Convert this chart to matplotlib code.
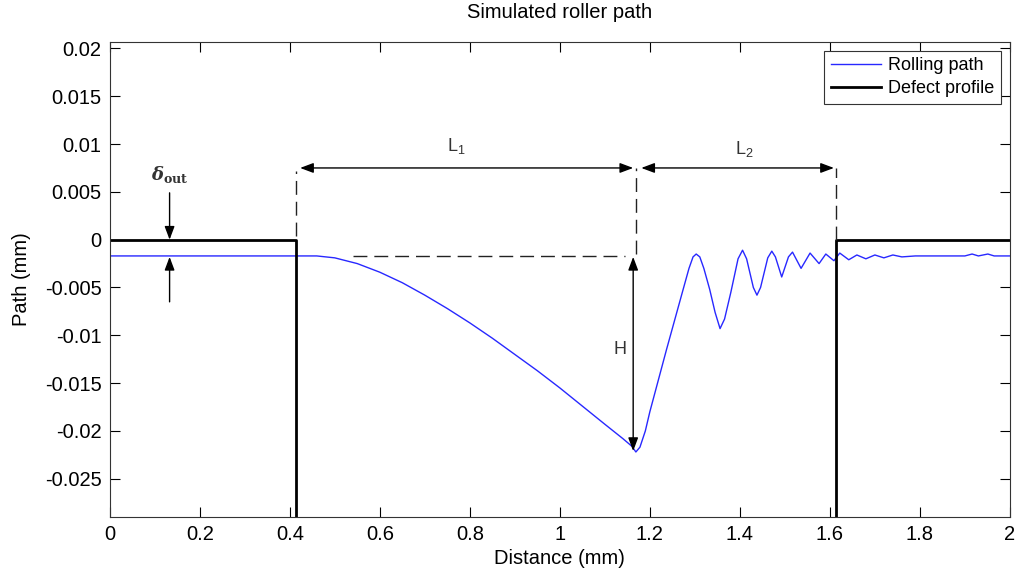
import numpy as np
import matplotlib
matplotlib.use('Agg')
import matplotlib.pyplot as plt
from matplotlib.ticker import FuncFormatter

plt.rcParams['font.family'] = ['Liberation Sans', 'DejaVu Sans']
plt.rcParams['mathtext.fontset'] = 'custom'
plt.rcParams['mathtext.rm'] = 'Liberation Sans'
plt.rcParams['mathtext.it'] = 'DejaVu Serif:italic:bold'
plt.rcParams['mathtext.bf'] = 'DejaVu Serif:bold'

# rolling path (mm)
path_x = [0, 0.46, 0.50, 0.55, 0.60, 0.65, 0.70, 0.75, 0.80, 0.85, 0.90, 0.95,
          1.00, 1.05, 1.10, 1.14, 1.160, 1.169, 1.178, 1.19, 1.20, 1.237, 1.274,
          1.287, 1.296, 1.303, 1.311, 1.320, 1.333, 1.345, 1.356, 1.366, 1.38,
          1.396, 1.406, 1.415, 1.430, 1.438, 1.446, 1.462, 1.471, 1.479, 1.493,
          1.508, 1.517, 1.536, 1.556, 1.576, 1.591, 1.609, 1.622, 1.642, 1.660,
          1.680, 1.700, 1.720, 1.74, 1.76, 1.79, 1.90, 1.916, 1.93, 1.951, 1.965,
          2.0]
path_y = [-0.0017, -0.0017, -0.0019, -0.0025, -0.0034, -0.0045, -0.0058, -0.0072,
          -0.0087, -0.0103, -0.0120, -0.0137, -0.0155, -0.0174, -0.0193, -0.0208,
          -0.0216, -0.0222, -0.0217, -0.0200, -0.0180, -0.0115, -0.0052, -0.0030,
          -0.0018, -0.0015, -0.0018, -0.0030, -0.0052, -0.0076, -0.0093, -0.0083,
          -0.0055, -0.0020, -0.0011, -0.0020, -0.0050, -0.0058, -0.0050, -0.0019,
          -0.0012, -0.0018, -0.0039, -0.0018, -0.0013, -0.0030, -0.0014, -0.0025,
          -0.0015, -0.0022, -0.0014, -0.0021, -0.0016, -0.0020, -0.0016, -0.0019,
          -0.0016, -0.0018, -0.0017, -0.0017, -0.0015, -0.0017, -0.0015, -0.0017,
          -0.0017]

# defect profile
x_in = 0.413
x_out = 1.613
defect_x = [0, x_in, x_in, x_out, x_out, 2]
defect_y = [0, 0, -0.04, -0.04, 0, 0]

x_min = 1.169      # bottom of the path
y_min = -0.0222
y_base = -0.0017
y_arrow = 0.0075

fig = plt.figure(figsize=(10.16, 5.74), dpi=100)
ax = fig.add_axes([0.108, 0.0993, 0.886, 0.828])

ax.plot(path_x, path_y, color='#2828ff', lw=1.0, label='Rolling path')
ax.plot(defect_x, defect_y, color='black', lw=2.0, label='Defect profile')

ax.set_xlim(0, 2)
ax.set_ylim(-0.029, 0.0207)
ax.set_xticks(np.arange(0, 2.01, 0.2))
ax.set_yticks(np.arange(-0.025, 0.0201, 0.005))
fmt = FuncFormatter(lambda v, p: '%g' % round(v, 4))
ax.xaxis.set_major_formatter(fmt)
ax.yaxis.set_major_formatter(fmt)
ax.tick_params(direction='in', top=True, right=True, labelsize=14.5, length=7, pad=6)
for s in ax.spines.values():
    s.set_color('#333333')

ax.set_title('Simulated roller path', fontsize=14.5, pad=17)
ax.set_xlabel('Distance (mm)', fontsize=14.5, labelpad=3)
ax.set_ylabel('Path (mm)', fontsize=14.5, labelpad=10)

dash = dict(color='#222222', lw=1.0, linestyle=(0, (10, 5)))
ax.plot([x_in, x_in], [0.0004, 0.0072], **dash)
ax.plot([x_min, x_min], [y_base + 0.0002, 0.0075], **dash)
ax.plot([x_out, x_out], [0, 0.0075], **dash)
ax.plot([0.54, 1.145], [y_base, y_base], **dash)

arr = dict(arrowstyle='<|-|>,head_length=0.8,head_width=0.3', color='black', lw=1.0,
           shrinkA=0, shrinkB=0)
ax.annotate('', xy=(x_in + 0.01, y_arrow), xytext=(x_min - 0.006, y_arrow), arrowprops=arr)
ax.annotate('', xy=(x_min + 0.012, y_arrow), xytext=(x_out - 0.004, y_arrow), arrowprops=arr)
ax.annotate('', xy=(x_min - 0.006, y_base - 0.0001), xytext=(x_min - 0.006, y_min + 0.0001),
            arrowprops=arr)

one = dict(arrowstyle='-|>,head_length=0.8,head_width=0.3', color='black', lw=1.0,
           shrinkA=0, shrinkB=0)
ax.annotate('', xy=(0.133, 0), xytext=(0.133, 0.0049), arrowprops=one)
ax.annotate('', xy=(0.133, y_base - 0.0001), xytext=(0.133, -0.0065), arrowprops=one)

tc = '#333333'
ax.text(0.77, 0.0098, 'L$_{1}$', fontsize=13, ha='center', va='center', color=tc)
ax.text(1.41, 0.0095, 'L$_{2}$', fontsize=13, ha='center', va='center', color=tc)
ax.text(1.133, -0.0115, 'H', fontsize=13, ha='center', va='center', color=tc)
ax.text(0.133, 0.0068, r'$\delta_{\mathbf{out}}$', fontsize=13, ha='center', va='center',
        color=tc)

leg = ax.legend(loc='upper right', fontsize=13, fancybox=False, framealpha=1,
                edgecolor='#333333', handlelength=2.8, handletextpad=0.4, borderpad=0.35,
                labelspacing=0.35, borderaxespad=0.5)
leg.get_frame().set_linewidth(0.8)

fig.savefig('out.png', dpi=100)
